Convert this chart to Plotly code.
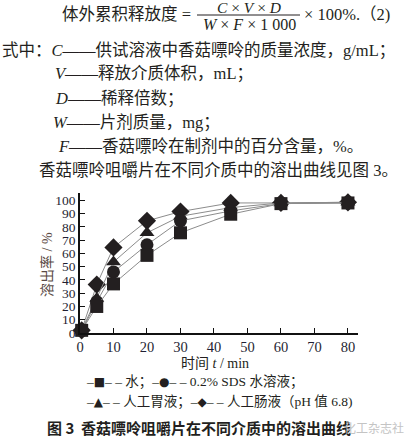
import plotly.graph_objects as go

# ---- data ----
time_min = [0.5, 5, 10, 20, 30, 45, 60, 80]
water = [2, 20, 37, 58.5, 75.5, 89.5, 97.5, 98]
sds = [2, 23.5, 46, 66.5, 84.5, 92, 97.5, 98]
gastric = [2, 26, 53.5, 75.5, 88, 94.5, 98, 98.5]
intestinal = [2, 36.5, 64.5, 84.5, 91.5, 98, 98, 98.5]

x_ticks = [0, 10, 20, 30, 40, 50, 60, 70, 80]
y_ticks = [0, 10, 20, 30, 40, 50, 60, 70, 80, 90, 100]

series = [
    ("人工肠液", intestinal, "diamond", 14),
    ("人工胃液", gastric, "triangle-up", 13),
    ("0.2% SDS 水溶液", sds, "circle", 13),
    ("水", water, "square", 13),
]

MARK = "#231f20"
LINE = "#8c8c8c"
SERIF = "Liberation Serif, Noto Sans CJK SC"
SANS = "Noto Sans CJK SC"

fig = go.Figure()
for name, vals, sym, sz in series:
    fig.add_trace(go.Scatter(
        x=time_min, y=vals, name=name, mode="lines+markers",
        line=dict(color=LINE, width=1),
        marker=dict(symbol=sym, size=sz, color=MARK, line=dict(width=0)),
        showlegend=False, cliponaxis=False, hoverinfo="skip"))

# plot area in pixels
L, R, T, B = 80, 358, 193, 333
def px(x):
    return (x - L) / (R - L)
def py(y):
    return (B - y) / (B - T)

anns = []
def txt(x, y, s, size=16.5, anchor="left", font=SERIF, color="#231f20", **kw):
    anns.append(dict(x=px(x), y=py(y), xref="paper", yref="paper", text=s,
                     showarrow=False, xanchor=anchor, yanchor="middle",
                     font=dict(family=font, size=size, color=color), **kw))

# formula
txt(193, 14, "体外累积释放度 =", anchor="right")
txt(249, 8, "<i>C</i> × <i>V</i> × <i>D</i>", anchor="center", size=15.5)
txt(249, 25, "<i>W</i> × <i>F</i> × 1 000", anchor="center", size=16)
txt(302, 14, "× 100%.（2)", anchor="left")
txt(0, 50, "式中：<i>C</i>——供试溶液中香菇嘌呤的质量浓度，g/mL；")
txt(53, 74, "<i>V</i>——释放介质体积，mL；")
txt(53, 98, "<i>D</i>——稀释倍数；")
txt(51, 122, "<i>W</i>——片剂质量，mg；")
txt(56, 146, "<i>F</i>——香菇嘌呤在制剂中的百分含量，%。")
txt(37, 170, "香菇嘌呤咀嚼片在不同介质中的溶出曲线见图 3。")

# axis titles
txt(215, 363, "时间 <i>t</i> / min", size=14, anchor="center")
anns.append(dict(x=px(47), y=py(265), xref="paper", yref="paper",
                 text="溶出率 / %", textangle=-90, showarrow=False,
                 xanchor="center", yanchor="middle",
                 font=dict(family=SERIF, size=14, color="#5a4a44")))

# legend text
def sym(c):
    return ("–<span style='font-family:DejaVu Sans;font-size:12px'>" + c +
            "</span>– –")
txt(84, 382, sym("■") + " 水；" + sym("●") + " 0.2% SDS 水溶液；", size=13.5)
txt(84, 402, sym("▲") + " 人工胃液；" + sym("◆") + " 人工肠液（pH 值 6.8)", size=13.5)

# caption + watermark
txt(45, 427, "<b>图 3  香菇嘌呤咀嚼片在不同介质中的溶出曲线</b>", size=15, font=SANS)
txt(406, 427, "化工杂志社", size=12, anchor="right", font=SANS, color="#c4c4c4")

fig.update_layout(
    width=408, height=440,
    margin=dict(l=L, r=408 - R, t=T, b=440 - B, pad=0, autoexpand=False),
    paper_bgcolor="white", plot_bgcolor="white",
    annotations=anns,
    shapes=[dict(type="line", xref="paper", yref="paper",
                 x0=px(197), x1=px(300), y0=py(15), y1=py(15),
                 line=dict(color="#231f20", width=1))],
)
fig.update_xaxes(range=[0, 83], tickvals=x_ticks, showgrid=False, zeroline=False,
                 showline=True, linecolor="#111", linewidth=1.5,
                 ticks="inside", ticklen=5, tickcolor="#111", tickwidth=1.2,
                 tickfont=dict(family=SERIF, size=14.5, color="#1f1f33"))
fig.update_yaxes(range=[0, 105.5], tickvals=y_ticks, showgrid=False, zeroline=False,
                 showline=True, linecolor="#111", linewidth=1.5,
                 ticks="inside", ticklen=5, tickcolor="#111", tickwidth=1.2,
                 tickfont=dict(family=SERIF, size=13.5, color="#1f1f33"))

fig.write_html("out.html", config={"displayModeBar": False},
               post_script="document.body.style.margin='0';document.body.style.overflow='hidden';")
